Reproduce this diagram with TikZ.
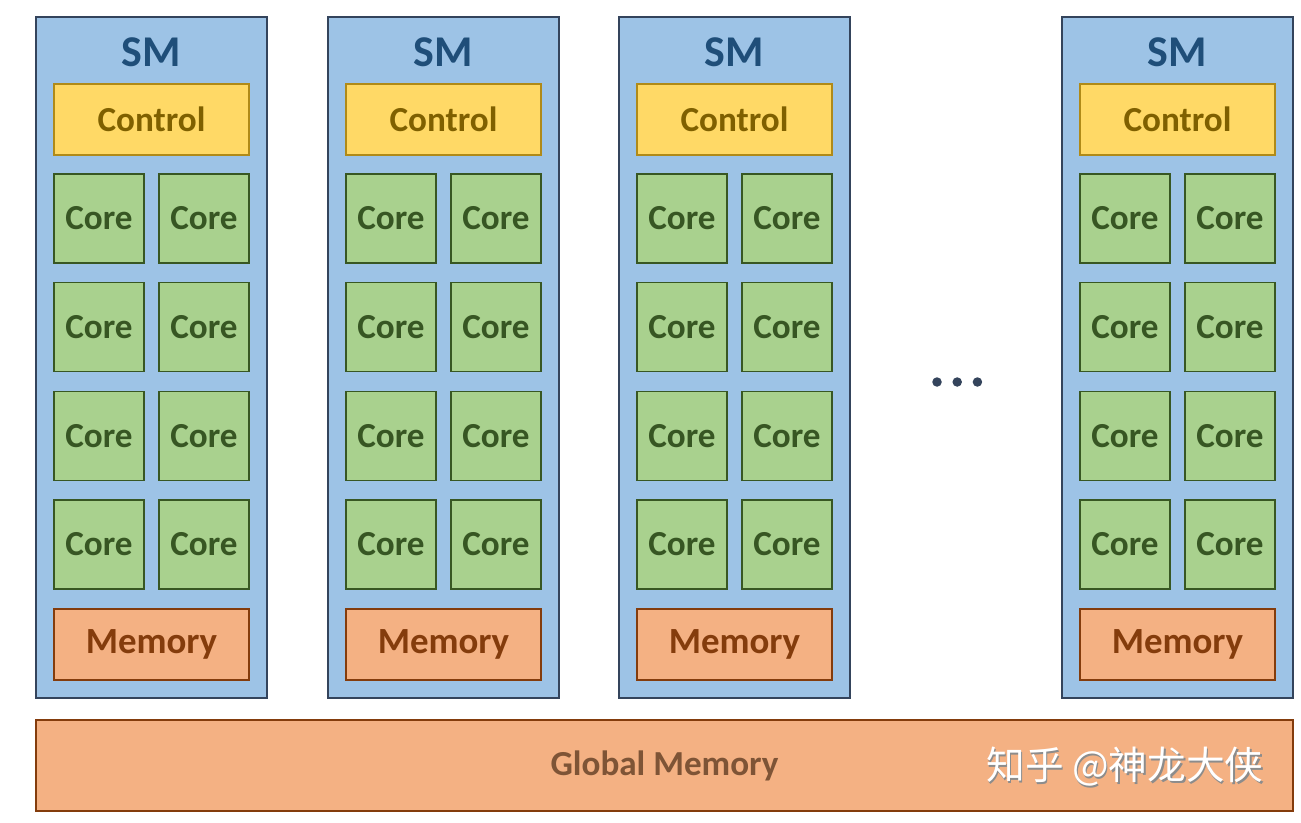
\documentclass[tikz,border=0pt]{standalone}
\usepackage{fontspec}
\setmainfont{Carlito}
\newfontfamily\cjk{Noto Sans CJK SC}
\usetikzlibrary{positioning}
\definecolor{smFill}{HTML}{9DC3E6}
\definecolor{smDraw}{HTML}{34445C}
\definecolor{smText}{HTML}{1F4E79}
\definecolor{ctrlFill}{HTML}{FFD966}
\definecolor{ctrlDraw}{HTML}{B08A18}
\definecolor{ctrlText}{HTML}{7F6000}
\definecolor{coreFill}{HTML}{A9D18E}
\definecolor{coreDraw}{HTML}{385723}
\definecolor{coreText}{HTML}{375623}
\definecolor{memFill}{HTML}{F4B183}
\definecolor{memDraw}{HTML}{843C0C}
\definecolor{memText}{HTML}{843C0C}
\definecolor{globText}{HTML}{7E5436}
\tikzset{
    panel/.style={draw=smDraw, fill=smFill, line width=1pt},
    title/.style={font=\bfseries\fontsize{25}{28}\selectfont, text=smText},
    ctrlbox/.style={draw=ctrlDraw, fill=ctrlFill, line width=1pt,
                    minimum width=39mm, minimum height=14.2mm, inner sep=0pt,
                    font=\bfseries\fontsize{20}{24}\selectfont, text=ctrlText},
    corebox/.style={draw=coreDraw, fill=coreFill, line width=1pt,
                    minimum width=18mm, minimum height=17.8mm, inner sep=0pt,
                    font=\bfseries\fontsize{20}{24}\selectfont, text=coreText},
    membox/.style={draw=memDraw, fill=memFill, line width=1pt,
                   minimum width=39mm, minimum height=14.2mm, inner sep=0pt,
                   font=\bfseries\fontsize{21}{24}\selectfont, text=memText},
    dot/.style={circle, fill=smDraw, minimum size=1.9mm, inner sep=0pt},
}

\begin{document}
\begin{tikzpicture}
\useasboundingbox (0,0) rectangle (26.02,16.44);

% ---------------------------------------------------------------------------
% SM 1
% ---------------------------------------------------------------------------
\begin{scope}[shift={(0,0)}]
    \draw[panel] (0.72,2.48) rectangle (5.34,16.10);
    \node[title] (smA) at (3.03,15.40) {SM};
    \node[ctrlbox] (ctrlA) at (3.03,14.05) {Control};
    \node[corebox] (coreA1) at (1.98,12.07) {Core};
    \node[corebox] (coreA2) at (4.08,12.07) {Core};
    \node[corebox] (coreA3) at (1.98,9.90) {Core};
    \node[corebox] (coreA4) at (4.08,9.90) {Core};
    \node[corebox] (coreA5) at (1.98,7.72) {Core};
    \node[corebox] (coreA6) at (4.08,7.72) {Core};
    \node[corebox] (coreA7) at (1.98,5.55) {Core};
    \node[corebox] (coreA8) at (4.08,5.55) {Core};
    \node[membox] (memA) at (3.03,3.55) {Memory};
\end{scope}

% ---------------------------------------------------------------------------
% SM 2
% ---------------------------------------------------------------------------
\begin{scope}[shift={(5.84,0)}]
    \draw[panel] (0.72,2.48) rectangle (5.34,16.10);
    \node[title] (smB) at (3.03,15.40) {SM};
    \node[ctrlbox] (ctrlB) at (3.03,14.05) {Control};
    \node[corebox] (coreB1) at (1.98,12.07) {Core};
    \node[corebox] (coreB2) at (4.08,12.07) {Core};
    \node[corebox] (coreB3) at (1.98,9.90) {Core};
    \node[corebox] (coreB4) at (4.08,9.90) {Core};
    \node[corebox] (coreB5) at (1.98,7.72) {Core};
    \node[corebox] (coreB6) at (4.08,7.72) {Core};
    \node[corebox] (coreB7) at (1.98,5.55) {Core};
    \node[corebox] (coreB8) at (4.08,5.55) {Core};
    \node[membox] (memB) at (3.03,3.55) {Memory};
\end{scope}

% ---------------------------------------------------------------------------
% SM 3
% ---------------------------------------------------------------------------
\begin{scope}[shift={(11.66,0)}]
    \draw[panel] (0.72,2.48) rectangle (5.34,16.10);
    \node[title] (smC) at (3.03,15.40) {SM};
    \node[ctrlbox] (ctrlC) at (3.03,14.05) {Control};
    \node[corebox] (coreC1) at (1.98,12.07) {Core};
    \node[corebox] (coreC2) at (4.08,12.07) {Core};
    \node[corebox] (coreC3) at (1.98,9.90) {Core};
    \node[corebox] (coreC4) at (4.08,9.90) {Core};
    \node[corebox] (coreC5) at (1.98,7.72) {Core};
    \node[corebox] (coreC6) at (4.08,7.72) {Core};
    \node[corebox] (coreC7) at (1.98,5.55) {Core};
    \node[corebox] (coreC8) at (4.08,5.55) {Core};
    \node[membox] (memC) at (3.03,3.55) {Memory};
\end{scope}

% ---------------------------------------------------------------------------
% SM n
% ---------------------------------------------------------------------------
\begin{scope}[shift={(20.52,0)}]
    \draw[panel] (0.72,2.48) rectangle (5.34,16.10);
    \node[title] (smD) at (3.03,15.40) {SM};
    \node[ctrlbox] (ctrlD) at (3.03,14.05) {Control};
    \node[corebox] (coreD1) at (1.98,12.07) {Core};
    \node[corebox] (coreD2) at (4.08,12.07) {Core};
    \node[corebox] (coreD3) at (1.98,9.90) {Core};
    \node[corebox] (coreD4) at (4.08,9.90) {Core};
    \node[corebox] (coreD5) at (1.98,7.72) {Core};
    \node[corebox] (coreD6) at (4.08,7.72) {Core};
    \node[corebox] (coreD7) at (1.98,5.55) {Core};
    \node[corebox] (coreD8) at (4.08,5.55) {Core};
    \node[membox] (memD) at (3.03,3.55) {Memory};
\end{scope}

% ellipsis between SM 3 and SM n
\node[dot] (dotA) at (18.74,8.80) {};
\node[dot, right=0.2 of dotA] (dotB) {};
\node[dot, right=0.2 of dotB] (dotC) {};

% ---------------------------------------------------------------------------
% Global memory
% ---------------------------------------------------------------------------
\node[membox, minimum width=251.4mm, minimum height=18.2mm, text=globText,
      font=\bfseries\fontsize{20}{24}\selectfont] (glob) at (13.29,1.13)
    {Global Memory};
\node[font=\cjk\fontsize{22}{24}\selectfont, text=black!45] (markShade)
    at (22.53,1.07) {知乎 @神龙大侠};
\node[font=\cjk\fontsize{22}{24}\selectfont, text=white] (mark)
    at (22.50,1.10) {知乎 @神龙大侠};

\end{tikzpicture}
\end{document}
